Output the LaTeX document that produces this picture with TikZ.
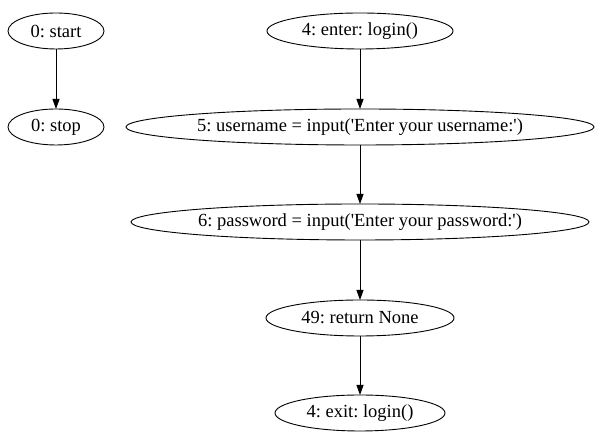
\documentclass[tikz,border=0pt]{standalone}
\usepackage{fontspec}
\setmainfont{Liberation Serif}[Ligatures=TeXReset]
\usepackage{tikz}
\usetikzlibrary{arrows.meta,shapes.geometric}
\frenchspacing
\tikzstyle{edge}=[->, >={Triangle[length=10pt,width=7pt]}, line width=0.9pt]
\tikzstyle{stmt}=[ellipse, draw, line width=0.9pt, minimum height=36pt, inner sep=0pt, outer sep=0pt, font=\fontsize{18.5}{20}\selectfont]

\begin{document}
\begin{tikzpicture}[x=1pt, y=1pt]
      \useasboundingbox (0,0) rectangle (600,443);
      \node(start) [stmt, minimum width=96pt] at (56, 412){0: start};
      \node(stop) [stmt, minimum width=96pt] at (56, 316){0: stop};
      \node(enter) [stmt, minimum width=186pt] at (360, 412){4: enter: login()};
      \node(user) [stmt, minimum width=468pt] at (360, 316){5: username = input('Enter your username:')};
      \node(pass) [stmt, minimum width=456pt] at (360, 221){6: password = input('Enter your password:')};
      \node(ret) [stmt, minimum width=188pt] at (360, 125){49: return None};
      \node(exit) [stmt, minimum width=170pt] at (360, 30){4: exit: login()};
      \draw[edge] (start) to (stop);
      \draw[edge] (enter) to (user);
      \draw[edge] (user) to (pass);
      \draw[edge] (pass) to (ret);
      \draw[edge] (ret) to (exit);
    \end{tikzpicture}
\end{document}
